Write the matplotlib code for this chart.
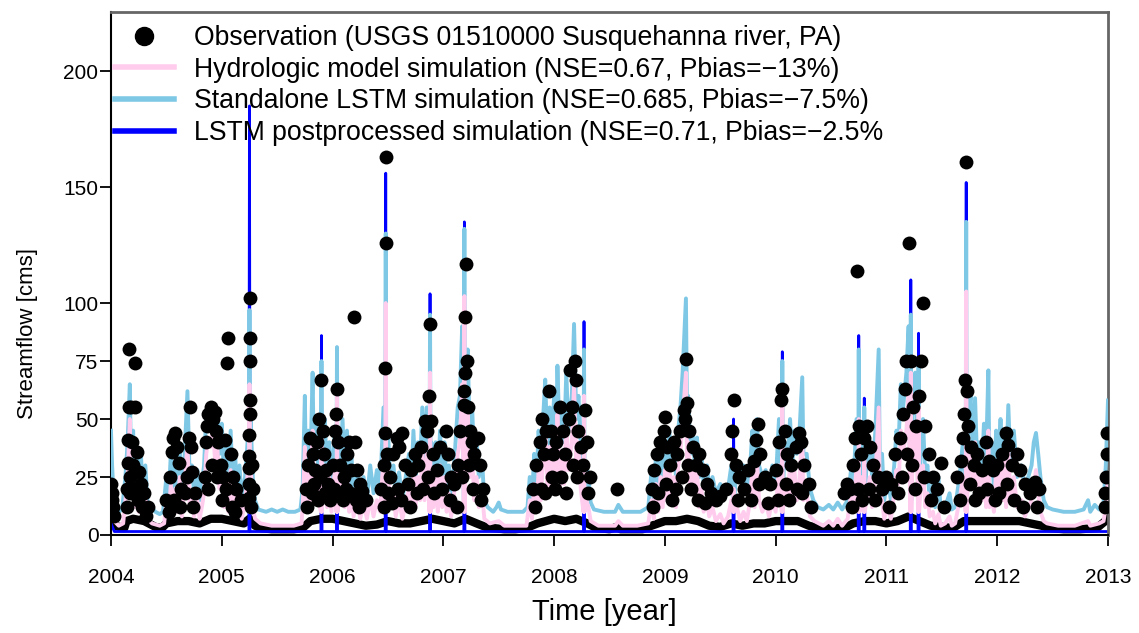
import matplotlib
matplotlib.use("Agg")
import matplotlib.pyplot as plt
from matplotlib.lines import Line2D

plt.rcParams['font.family'] = ['Liberation Sans', 'DejaVu Sans']

# ---- data (decimal year, streamflow in cms) ----
lstm_pts = [
    (2004.00, 45), (2004.01, 30), (2004.02, 20), (2004.04, 12), (2004.07, 10), (2004.10, 11), (2004.13, 25),
    (2004.15, 40), (2004.17, 65), (2004.18, 30), (2004.20, 45), (2004.21, 22), (2004.23, 38), (2004.25, 18),
    (2004.27, 35), (2004.29, 15), (2004.31, 30), (2004.33, 14), (2004.36, 12), (2004.40, 10), (2004.44, 9),
    (2004.47, 10), (2004.50, 25), (2004.52, 15), (2004.54, 35), (2004.56, 18), (2004.58, 32), (2004.60, 20),
    (2004.62, 38), (2004.64, 16), (2004.66, 30), (2004.69, 62), (2004.71, 25), (2004.73, 30), (2004.75, 18),
    (2004.78, 28), (2004.80, 15), (2004.82, 22), (2004.84, 30), (2004.86, 52), (2004.88, 54), (2004.90, 50),
    (2004.92, 54), (2004.94, 45), (2004.96, 52), (2004.98, 35), (2005.00, 48), (2005.02, 25), (2005.04, 40),
    (2005.06, 20), (2005.08, 45), (2005.10, 22), (2005.12, 35), (2005.14, 18), (2005.16, 30), (2005.18, 15),
    (2005.21, 25), (2005.24, 45), (2005.245, 15), (2005.25, 97), (2005.255, 15), (2005.26, 50), (2005.28, 25),
    (2005.30, 15), (2005.33, 11), (2005.40, 10), (2005.45, 11), (2005.50, 10), (2005.55, 11), (2005.60, 10),
    (2005.66, 10), (2005.71, 11), (2005.73, 20), (2005.75, 60), (2005.76, 25), (2005.78, 45), (2005.80, 30),
    (2005.82, 70), (2005.83, 35), (2005.85, 50), (2005.87, 30), (2005.895, 15), (2005.90, 75), (2005.905, 15),
    (2005.91, 40), (2005.93, 50), (2005.95, 25), (2005.97, 40), (2005.99, 20), (2006.02, 45), (2006.035, 15),
    (2006.04, 81), (2006.045, 15), (2006.05, 40), (2006.07, 30), (2006.09, 50), (2006.11, 25), (2006.13, 45),
    (2006.15, 20), (2006.17, 35), (2006.19, 18), (2006.22, 28), (2006.25, 15), (2006.28, 25), (2006.31, 15),
    (2006.34, 30), (2006.37, 18), (2006.40, 28), (2006.43, 20), (2006.46, 55), (2006.475, 15), (2006.48, 130),
    (2006.485, 15), (2006.50, 45), (2006.52, 25), (2006.55, 30), (2006.57, 18), (2006.60, 27), (2006.63, 15),
    (2006.66, 25), (2006.69, 35), (2006.71, 20), (2006.73, 45), (2006.75, 25), (2006.77, 40), (2006.79, 30),
    (2006.81, 55), (2006.83, 30), (2006.85, 55), (2006.875, 15), (2006.88, 95), (2006.885, 15), (2006.89, 40),
    (2006.91, 25), (2006.93, 40), (2006.95, 20), (2006.97, 45), (2006.99, 25), (2007.01, 40), (2007.03, 20),
    (2007.05, 30), (2007.07, 18), (2007.09, 25), (2007.11, 40), (2007.13, 55), (2007.15, 60), (2007.17, 90),
    (2007.185, 15), (2007.19, 132), (2007.195, 15), (2007.20, 60), (2007.22, 80), (2007.24, 40), (2007.26, 55),
    (2007.28, 30), (2007.30, 42), (2007.32, 25), (2007.35, 32), (2007.37, 15), (2007.40, 12), (2007.45, 10),
    (2007.48, 12), (2007.50, 14), (2007.52, 11), (2007.58, 10), (2007.65, 10), (2007.72, 10), (2007.76, 12),
    (2007.78, 25), (2007.80, 15), (2007.82, 35), (2007.84, 22), (2007.86, 45), (2007.88, 30), (2007.90, 50),
    (2007.92, 67), (2007.94, 35), (2007.96, 55), (2007.98, 40), (2008.00, 60), (2008.02, 45), (2008.03, 73),
    (2008.05, 40), (2008.07, 55), (2008.09, 40), (2008.11, 70), (2008.13, 45), (2008.16, 60), (2008.18, 91),
    (2008.20, 50), (2008.22, 60), (2008.24, 40), (2008.265, 15), (2008.27, 80), (2008.275, 15), (2008.29, 30),
    (2008.31, 25), (2008.33, 14), (2008.36, 11), (2008.45, 10), (2008.55, 10), (2008.58, 13), (2008.62, 10),
    (2008.70, 10), (2008.78, 10), (2008.85, 12), (2008.88, 28), (2008.90, 15), (2008.92, 35), (2008.94, 20),
    (2008.96, 38), (2008.98, 25), (2009.00, 40), (2009.02, 30), (2009.04, 45), (2009.06, 30), (2009.08, 40),
    (2009.10, 25), (2009.12, 45), (2009.14, 55), (2009.16, 70), (2009.19, 102), (2009.20, 50), (2009.21, 60),
    (2009.23, 35), (2009.25, 45), (2009.27, 30), (2009.29, 42), (2009.31, 25), (2009.33, 35), (2009.35, 22),
    (2009.38, 30), (2009.40, 20), (2009.43, 25), (2009.46, 18), (2009.50, 22), (2009.53, 17), (2009.57, 20),
    (2009.60, 30), (2009.615, 15), (2009.62, 28), (2009.625, 15), (2009.65, 30), (2009.68, 25), (2009.71, 30),
    (2009.74, 20), (2009.77, 30), (2009.79, 45), (2009.81, 25), (2009.83, 50), (2009.85, 30), (2009.88, 25),
    (2009.91, 28), (2009.94, 20), (2009.97, 30), (2010.00, 22), (2010.03, 50), (2010.04, 40), (2010.055, 15),
    (2010.06, 75), (2010.065, 15), (2010.08, 40), (2010.11, 35), (2010.13, 50), (2010.15, 30), (2010.17, 45),
    (2010.19, 35), (2010.21, 40), (2010.24, 68), (2010.25, 35), (2010.28, 35), (2010.31, 20), (2010.34, 15),
    (2010.38, 12), (2010.43, 11), (2010.48, 13), (2010.52, 11), (2010.56, 14), (2010.60, 11), (2010.65, 15),
    (2010.68, 28), (2010.70, 20), (2010.73, 50), (2010.745, 15), (2010.75, 80), (2010.755, 15), (2010.78, 45),
    (2010.795, 15), (2010.80, 55), (2010.805, 15), (2010.82, 30), (2010.85, 40), (2010.87, 25), (2010.90, 45),
    (2010.93, 80), (2010.94, 30), (2010.96, 35), (2010.98, 15), (2011.01, 25), (2011.04, 15), (2011.07, 30),
    (2011.09, 45), (2011.11, 40), (2011.13, 65), (2011.15, 55), (2011.18, 70), (2011.20, 90), (2011.215, 15),
    (2011.22, 95), (2011.225, 15), (2011.24, 60), (2011.26, 70), (2011.28, 45), (2011.285, 15), (2011.29, 75),
    (2011.295, 15), (2011.31, 40), (2011.33, 50), (2011.35, 25), (2011.37, 30), (2011.39, 15), (2011.42, 22),
    (2011.44, 12), (2011.47, 25), (2011.49, 11), (2011.53, 12), (2011.57, 18), (2011.59, 11), (2011.62, 12),
    (2011.66, 25), (2011.69, 40), (2011.715, 15), (2011.72, 135), (2011.725, 15), (2011.74, 50), (2011.76, 60),
    (2011.78, 35), (2011.80, 59), (2011.82, 30), (2011.84, 40), (2011.86, 25), (2011.88, 48), (2011.90, 35),
    (2011.92, 71), (2011.93, 25), (2011.95, 40), (2011.97, 20), (2011.99, 45), (2012.01, 35), (2012.03, 50),
    (2012.05, 30), (2012.07, 45), (2012.08, 25), (2012.10, 56), (2012.12, 30), (2012.15, 45), (2012.18, 25),
    (2012.22, 30), (2012.25, 20), (2012.28, 25), (2012.31, 30), (2012.33, 40), (2012.35, 44), (2012.37, 35),
    (2012.39, 25), (2012.42, 15), (2012.45, 12), (2012.50, 11), (2012.60, 10), (2012.70, 10), (2012.78, 11),
    (2012.82, 15), (2012.84, 10), (2012.88, 13), (2012.92, 11), (2012.96, 14), (2012.98, 30), (2013.00, 58),
]

hydro_pts = [
    (2004.00, 20), (2004.01, 12), (2004.03, 6), (2004.07, 4), (2004.11, 5), (2004.13, 15), (2004.15, 25),
    (2004.17, 50), (2004.18, 18), (2004.20, 30), (2004.21, 12), (2004.23, 25), (2004.25, 10), (2004.27, 22),
    (2004.29, 8), (2004.31, 18), (2004.33, 7), (2004.37, 5), (2004.44, 4), (2004.48, 5), (2004.50, 15),
    (2004.52, 8), (2004.54, 22), (2004.56, 9), (2004.58, 20), (2004.60, 10), (2004.62, 25), (2004.64, 8),
    (2004.66, 18), (2004.69, 40), (2004.71, 12), (2004.73, 18), (2004.75, 8), (2004.78, 15), (2004.80, 7),
    (2004.82, 12), (2004.84, 18), (2004.86, 35), (2004.88, 42), (2004.90, 38), (2004.92, 45), (2004.94, 32),
    (2004.96, 38), (2004.98, 20), (2005.00, 30), (2005.02, 12), (2005.04, 25), (2005.06, 10), (2005.08, 28),
    (2005.10, 10), (2005.12, 22), (2005.14, 8), (2005.16, 18), (2005.18, 7), (2005.21, 14), (2005.24, 30),
    (2005.245, 10), (2005.25, 65), (2005.255, 10), (2005.26, 30), (2005.28, 12), (2005.30, 7), (2005.35, 5),
    (2005.45, 4), (2005.55, 4), (2005.65, 4), (2005.72, 5), (2005.73, 12), (2005.75, 38), (2005.76, 12),
    (2005.78, 28), (2005.80, 15), (2005.82, 45), (2005.83, 18), (2005.85, 30), (2005.87, 15), (2005.895, 10),
    (2005.90, 50), (2005.905, 10), (2005.91, 25), (2005.93, 30), (2005.95, 12), (2005.97, 25), (2005.99, 10),
    (2006.02, 28), (2006.035, 10), (2006.04, 60), (2006.045, 10), (2006.05, 22), (2006.07, 15), (2006.09, 32),
    (2006.11, 12), (2006.13, 28), (2006.15, 10), (2006.17, 20), (2006.19, 8), (2006.22, 15), (2006.25, 7),
    (2006.28, 14), (2006.31, 7), (2006.34, 16), (2006.37, 8), (2006.40, 15), (2006.43, 10), (2006.46, 35),
    (2006.475, 10), (2006.48, 100), (2006.485, 10), (2006.50, 28), (2006.52, 12), (2006.55, 18), (2006.57, 8),
    (2006.60, 15), (2006.63, 7), (2006.66, 13), (2006.69, 20), (2006.71, 10), (2006.73, 28), (2006.75, 12),
    (2006.77, 25), (2006.79, 15), (2006.81, 35), (2006.83, 15), (2006.85, 35), (2006.875, 10), (2006.88, 70),
    (2006.885, 10), (2006.89, 22), (2006.91, 12), (2006.93, 25), (2006.95, 10), (2006.97, 30), (2006.99, 12),
    (2007.01, 25), (2007.03, 10), (2007.05, 18), (2007.07, 8), (2007.09, 14), (2007.11, 25), (2007.13, 35),
    (2007.15, 40), (2007.17, 65), (2007.185, 10), (2007.19, 103), (2007.195, 10), (2007.20, 40), (2007.22, 55),
    (2007.24, 25), (2007.26, 35), (2007.28, 15), (2007.30, 25), (2007.32, 12), (2007.35, 18), (2007.37, 7),
    (2007.42, 5), (2007.50, 6), (2007.55, 4), (2007.65, 4), (2007.75, 4), (2007.78, 15), (2007.80, 7),
    (2007.82, 22), (2007.84, 10), (2007.86, 28), (2007.88, 15), (2007.90, 32), (2007.92, 48), (2007.94, 20),
    (2007.96, 38), (2007.98, 22), (2008.00, 42), (2008.02, 28), (2008.03, 52), (2008.05, 20), (2008.07, 35),
    (2008.09, 22), (2008.11, 50), (2008.13, 28), (2008.16, 40), (2008.18, 65), (2008.20, 30), (2008.22, 40),
    (2008.24, 20), (2008.265, 10), (2008.27, 60), (2008.275, 10), (2008.29, 15), (2008.31, 12), (2008.33, 6),
    (2008.40, 4), (2008.55, 4), (2008.58, 6), (2008.62, 4), (2008.75, 4), (2008.85, 5), (2008.88, 15),
    (2008.90, 7), (2008.92, 22), (2008.94, 10), (2008.96, 25), (2008.98, 12), (2009.00, 28), (2009.02, 15),
    (2009.04, 30), (2009.06, 15), (2009.08, 25), (2009.10, 12), (2009.12, 30), (2009.14, 35), (2009.16, 50),
    (2009.19, 70), (2009.20, 30), (2009.21, 40), (2009.23, 20), (2009.25, 30), (2009.27, 15), (2009.29, 28),
    (2009.31, 12), (2009.33, 20), (2009.35, 10), (2009.38, 15), (2009.40, 8), (2009.43, 12), (2009.46, 6),
    (2009.50, 9), (2009.53, 5), (2009.57, 8), (2009.60, 15), (2009.615, 10), (2009.62, 20), (2009.625, 10),
    (2009.65, 12), (2009.68, 6), (2009.71, 10), (2009.74, 6), (2009.77, 15), (2009.79, 30), (2009.81, 12),
    (2009.83, 35), (2009.85, 15), (2009.88, 10), (2009.91, 14), (2009.94, 8), (2009.97, 15), (2010.00, 10),
    (2010.03, 30), (2010.04, 22), (2010.055, 10), (2010.06, 60), (2010.065, 10), (2010.08, 22), (2010.11, 18),
    (2010.13, 30), (2010.15, 15), (2010.17, 28), (2010.19, 15), (2010.21, 20), (2010.24, 45), (2010.25, 15),
    (2010.28, 18), (2010.31, 8), (2010.35, 6), (2010.43, 4), (2010.48, 6), (2010.52, 4), (2010.56, 7),
    (2010.60, 4), (2010.65, 7), (2010.68, 18), (2010.70, 10), (2010.73, 30), (2010.745, 10), (2010.75, 50),
    (2010.755, 10), (2010.78, 25), (2010.795, 10), (2010.80, 35), (2010.805, 10), (2010.82, 15), (2010.85, 25),
    (2010.87, 12), (2010.90, 25), (2010.93, 55), (2010.94, 18), (2010.96, 15), (2010.98, 7), (2011.01, 12),
    (2011.04, 7), (2011.07, 18), (2011.09, 28), (2011.11, 22), (2011.13, 45), (2011.15, 35), (2011.18, 45),
    (2011.20, 60), (2011.215, 10), (2011.22, 70), (2011.225, 10), (2011.24, 40), (2011.26, 45), (2011.28, 25),
    (2011.285, 10), (2011.29, 55), (2011.295, 10), (2011.31, 22), (2011.33, 30), (2011.35, 12), (2011.37, 18),
    (2011.39, 8), (2011.42, 10), (2011.44, 5), (2011.47, 9), (2011.49, 4), (2011.53, 5), (2011.57, 8),
    (2011.59, 4), (2011.62, 5), (2011.66, 15), (2011.69, 25), (2011.715, 10), (2011.72, 105), (2011.725, 10),
    (2011.74, 30), (2011.76, 38), (2011.78, 20), (2011.80, 40), (2011.82, 15), (2011.84, 30), (2011.86, 15),
    (2011.88, 28), (2011.90, 12), (2011.92, 45), (2011.93, 12), (2011.95, 18), (2011.97, 10), (2011.99, 28),
    (2012.01, 20), (2012.03, 30), (2012.05, 15), (2012.07, 35), (2012.08, 12), (2012.10, 38), (2012.12, 15),
    (2012.15, 25), (2012.18, 12), (2012.22, 15), (2012.25, 8), (2012.28, 12), (2012.31, 15), (2012.33, 22),
    (2012.35, 28), (2012.37, 18), (2012.39, 10), (2012.42, 6), (2012.45, 5), (2012.55, 4), (2012.70, 4),
    (2012.82, 6), (2012.84, 4), (2012.92, 5), (2012.96, 6), (2012.98, 12), (2013.00, 25),
]

post_pts = [
    (2004.00, 5), (2004.03, 1.5),
    (2005.2449, 1.5), (2005.245, 15), (2005.25, 185), (2005.255, 15), (2005.2551, 1.5),
    (2005.8949, 1.5), (2005.895, 15), (2005.90, 86), (2005.905, 15), (2005.9051, 1.5),
    (2006.0349, 1.5), (2006.035, 15), (2006.04, 81), (2006.045, 15), (2006.0451, 1.5),
    (2006.4749, 1.5), (2006.475, 15), (2006.48, 156), (2006.485, 15), (2006.4851, 1.5),
    (2006.8749, 1.5), (2006.875, 15), (2006.88, 104), (2006.885, 15), (2006.8851, 1.5),
    (2007.1849, 1.5), (2007.185, 15), (2007.19, 135), (2007.195, 15), (2007.1951, 1.5),
    (2008.2649, 1.5), (2008.265, 15), (2008.27, 92), (2008.275, 15), (2008.2751, 1.5),
    (2009.6149, 1.5), (2009.615, 15), (2009.62, 50), (2009.625, 15), (2009.6251, 1.5),
    (2010.0549, 1.5), (2010.055, 15), (2010.06, 79), (2010.065, 15), (2010.0651, 1.5),
    (2010.7449, 1.5), (2010.745, 15), (2010.75, 86), (2010.755, 15), (2010.7551, 1.5),
    (2010.7949, 1.5), (2010.795, 15), (2010.80, 59), (2010.805, 15), (2010.8051, 1.5),
    (2011.2149, 1.5), (2011.215, 15), (2011.22, 110), (2011.225, 15), (2011.2251, 1.5),
    (2011.2849, 1.5), (2011.285, 15), (2011.29, 87), (2011.295, 15), (2011.2951, 1.5),
    (2011.7149, 1.5), (2011.715, 15), (2011.72, 152), (2011.725, 15), (2011.7251, 1.5),
    (2013.00, 1.5),
]

obs_base_pts = [
    (2004.00, 7), (2004.03, 4), (2004.12, 3), (2004.14, 6), (2004.20, 7), (2004.30, 6), (2004.40, 3.5),
    (2004.46, 3), (2004.50, 5), (2004.60, 6), (2004.70, 6), (2004.80, 5), (2004.90, 7), (2005.00, 7),
    (2005.10, 6), (2005.20, 5), (2005.25, 7), (2005.30, 4), (2005.35, 3), (2005.45, 2.5), (2005.55, 2.5),
    (2005.65, 2.5), (2005.73, 3), (2005.80, 6), (2005.90, 7), (2006.00, 7), (2006.10, 6), (2006.20, 5),
    (2006.30, 4), (2006.40, 4.5), (2006.50, 6), (2006.60, 5), (2006.70, 5), (2006.80, 6), (2006.90, 7),
    (2007.00, 6), (2007.10, 5), (2007.20, 7), (2007.30, 5), (2007.38, 3.5), (2007.45, 3), (2007.55, 2.5),
    (2007.65, 2.5), (2007.75, 3), (2007.85, 5), (2008.00, 7), (2008.10, 6), (2008.20, 7), (2008.30, 5),
    (2008.38, 3), (2008.50, 2.5), (2008.57, 3.5), (2008.60, 2.5), (2008.80, 2.5), (2008.88, 4), (2009.00, 6),
    (2009.10, 6), (2009.20, 7), (2009.30, 6), (2009.40, 4), (2009.50, 3.5), (2009.60, 5), (2009.70, 4),
    (2009.80, 5), (2009.90, 5), (2010.00, 6), (2010.10, 6), (2010.20, 6), (2010.30, 4), (2010.38, 3),
    (2010.50, 3), (2010.62, 3), (2010.70, 5), (2010.80, 6), (2010.90, 6), (2011.00, 5), (2011.10, 6),
    (2011.20, 8), (2011.30, 6), (2011.40, 4), (2011.50, 3.5), (2011.60, 3), (2011.70, 6), (2011.80, 6),
    (2011.90, 6), (2012.00, 6), (2012.10, 6), (2012.20, 6), (2012.30, 5), (2012.40, 4), (2012.47, 3),
    (2012.60, 2.5), (2012.75, 2.5), (2012.90, 3), (2013.00, 7),
]

obs_pts = [
    # 2004
    (2004.00, 22), (2004.005, 15), (2004.01, 18), (2004.02, 12), (2004.03, 8), (2004.14, 20), (2004.145, 12),
    (2004.15, 31), (2004.155, 41), (2004.16, 55), (2004.165, 80), (2004.17, 25), (2004.175, 18), (2004.18, 55),
    (2004.19, 40), (2004.20, 30), (2004.21, 20), (2004.215, 74), (2004.22, 55), (2004.235, 36), (2004.24, 15),
    (2004.25, 27), (2004.27, 22), (2004.28, 12), (2004.30, 18), (2004.32, 8), (2004.33, 12), (2004.50, 15),
    (2004.52, 10), (2004.53, 25), (2004.55, 36), (2004.56, 42), (2004.57, 15), (2004.58, 44), (2004.595, 38),
    (2004.61, 31), (2004.62, 12), (2004.63, 20), (2004.67, 18), (2004.69, 25), (2004.70, 42), (2004.71, 55),
    (2004.72, 38), (2004.73, 27), (2004.74, 12), (2004.76, 18), (2004.85, 25), (2004.86, 40), (2004.87, 47),
    (2004.875, 20), (2004.88, 52), (2004.90, 55), (2004.91, 30), (2004.92, 50), (2004.94, 53), (2004.95, 45),
    (2004.96, 25), (2004.97, 40), (2004.99, 30), (2005.00, 15), (2005.01, 25), (2005.03, 41), (2005.04, 20),
    (2005.05, 74), (2005.06, 85), (2005.08, 35), (2005.09, 12), (2005.10, 25), (2005.12, 10), (2005.13, 20),
    (2005.17, 15),
    # 2005 spring flood
    (2005.245, 16), (2005.247, 22), (2005.248, 29), (2005.249, 34), (2005.25, 43), (2005.251, 52),
    (2005.252, 58), (2005.253, 75), (2005.254, 85), (2005.255, 102), (2005.265, 12), (2005.27, 30),
    (2005.28, 20),
    # winter 2005/06
    (2005.76, 20), (2005.77, 12), (2005.78, 30), (2005.80, 42), (2005.81, 18), (2005.82, 35), (2005.83, 22),
    (2005.84, 28), (2005.86, 40), (2005.87, 15), (2005.88, 50), (2005.89, 25), (2005.90, 67), (2005.91, 45),
    (2005.92, 35), (2005.93, 18), (2005.94, 28), (2005.96, 22), (2005.98, 15), (2006.00, 30), (2006.01, 20),
    (2006.02, 45), (2006.03, 52), (2006.04, 63), (2006.05, 40), (2006.06, 18), (2006.07, 30), (2006.09, 15),
    (2006.10, 25), (2006.12, 20), (2006.13, 35), (2006.15, 40), (2006.16, 18), (2006.17, 28), (2006.19, 94),
    (2006.20, 40), (2006.21, 15), (2006.22, 28), (2006.24, 12), (2006.25, 22), (2006.27, 19), (2006.30, 15),
    (2006.44, 20), (2006.46, 12),
    # 2006 summer flood
    (2006.465, 30), (2006.47, 44), (2006.475, 72), (2006.48, 126), (2006.482, 163), (2006.49, 35),
    (2006.50, 18), (2006.52, 25), (2006.54, 14), (2006.55, 35), (2006.58, 42), (2006.59, 20), (2006.60, 38),
    (2006.62, 15), (2006.63, 44), (2006.65, 30), (2006.68, 22), (2006.70, 12), (2006.71, 28), (2006.74, 35),
    (2006.76, 18), (2006.77, 30), (2006.80, 38), (2006.82, 20), (2006.83, 49), (2006.85, 45), (2006.86, 25),
    (2006.87, 60), (2006.88, 91), (2006.89, 49), (2006.91, 35), (2006.92, 18), (2006.94, 28), (2006.97, 38),
    (2006.99, 20), (2007.02, 45), (2007.04, 35), (2007.06, 15), (2007.07, 25), (2007.10, 22), (2007.12, 12),
    (2007.13, 30), (2007.15, 45), (2007.17, 25),
    # 2007 spring flood
    (2007.185, 56), (2007.19, 62), (2007.195, 70), (2007.20, 94), (2007.205, 117), (2007.21, 75),
    (2007.22, 55), (2007.23, 30), (2007.24, 45), (2007.26, 40), (2007.27, 20), (2007.28, 35), (2007.31, 42),
    (2007.33, 30), (2007.34, 15), (2007.36, 20),
    # winter 2007/08
    (2007.81, 20), (2007.83, 12), (2007.84, 30), (2007.87, 40), (2007.88, 20), (2007.89, 50), (2007.91, 35),
    (2007.92, 18), (2007.93, 45), (2007.95, 62), (2007.97, 45), (2007.98, 25), (2007.99, 35), (2008.01, 20),
    (2008.02, 40), (2008.05, 55), (2008.06, 25), (2008.08, 45), (2008.10, 35), (2008.11, 18), (2008.13, 50),
    (2008.14, 71), (2008.16, 55), (2008.17, 30), (2008.19, 75), (2008.20, 67), (2008.21, 25), (2008.22, 45),
    (2008.24, 38), (2008.26, 30), (2008.28, 54), (2008.30, 40), (2008.31, 18), (2008.32, 25), (2008.57, 20),
    # 2008/09
    (2008.88, 20), (2008.89, 12), (2008.90, 28), (2008.93, 35), (2008.94, 18), (2008.96, 40), (2008.99, 45),
    (2009.00, 51), (2009.01, 22), (2009.02, 38), (2009.05, 30), (2009.06, 15), (2009.08, 40), (2009.10, 20),
    (2009.11, 35), (2009.14, 45), (2009.15, 25), (2009.17, 54), (2009.18, 50), (2009.19, 76), (2009.20, 57),
    (2009.21, 30), (2009.22, 45), (2009.24, 20), (2009.25, 38), (2009.28, 30), (2009.30, 15), (2009.31, 35),
    (2009.34, 28), (2009.36, 14), (2009.38, 22), (2009.42, 18), (2009.46, 15), (2009.50, 17), (2009.55, 20),
    (2009.60, 35), (2009.61, 45), (2009.62, 58), (2009.64, 30), (2009.66, 15), (2009.67, 25), (2009.71, 20),
    (2009.75, 28), (2009.78, 15), (2009.80, 32), (2009.82, 41), (2009.84, 48), (2009.85, 22), (2009.86, 35),
    (2009.90, 25), (2009.93, 14), (2009.95, 22), (2010.00, 28), (2010.02, 15), (2010.03, 40), (2010.05, 58),
    (2010.06, 63), (2010.08, 45), (2010.09, 22), (2010.10, 35), (2010.12, 15), (2010.14, 30), (2010.18, 38),
    (2010.19, 20), (2010.21, 44), (2010.23, 40), (2010.24, 18), (2010.26, 30), (2010.30, 22), (2010.32, 12),
    # 2010/11
    (2010.62, 18), (2010.64, 22), (2010.67, 20), (2010.69, 12), (2010.70, 30), (2010.72, 42), (2010.73, 114),
    (2010.74, 20), (2010.75, 47), (2010.77, 35), (2010.78, 15), (2010.80, 42), (2010.82, 47), (2010.84, 20),
    (2010.85, 38), (2010.88, 30), (2010.90, 15), (2010.92, 25), (2010.96, 20), (2011.00, 25), (2011.02, 12),
    (2011.04, 22), (2011.08, 35), (2011.10, 18), (2011.12, 42), (2011.14, 25), (2011.15, 52), (2011.17, 63),
    (2011.18, 75), (2011.19, 35), (2011.20, 126), (2011.22, 75), (2011.23, 30), (2011.24, 55), (2011.26, 20),
    (2011.27, 47), (2011.29, 60), (2011.31, 75), (2011.33, 100), (2011.34, 25), (2011.35, 47), (2011.38, 35),
    (2011.40, 15), (2011.42, 25), (2011.46, 20), (2011.49, 31), (2011.52, 12),
    # 2011 autumn flood and winter 2011/12
    (2011.64, 25), (2011.66, 15), (2011.67, 32), (2011.69, 42), (2011.70, 52), (2011.71, 67), (2011.72, 161),
    (2011.73, 62), (2011.74, 47), (2011.75, 22), (2011.76, 38), (2011.79, 30), (2011.80, 15), (2011.82, 35),
    (2011.84, 18), (2011.86, 28), (2011.90, 40), (2011.91, 20), (2011.93, 32), (2011.96, 28), (2011.98, 15),
    (2012.00, 30), (2012.02, 18), (2012.04, 35), (2012.08, 44), (2012.09, 22), (2012.10, 39), (2012.13, 30),
    (2012.15, 15), (2012.18, 35), (2012.21, 28), (2012.23, 12), (2012.25, 22), (2012.30, 18), (2012.34, 23),
    (2012.36, 12), (2012.38, 20),
    # rise at the end of 2012
    (2012.97, 12), (2012.975, 18), (2012.985, 25), (2012.99, 35), (2012.995, 44),
]

labels = [
    "Observation (USGS 01510000 Susquehanna river, PA)",
    "Hydrologic model simulation (NSE=0.67, Pbias=\u221213%)",
    "Standalone LSTM simulation (NSE=0.685, Pbias=\u22127.5%)",
    "LSTM postprocessed simulation (NSE=0.71, Pbias=\u22122.5%",
]
year_ticks = list(range(2004, 2014))
flow_ticks = [0, 25, 50, 75, 100, 150, 200]

pink = "#FFCCEE"
sky = "#7EC8E6"
blue = "#0000FF"

fig = plt.figure(figsize=(11.39, 6.33), dpi=100)
ax = fig.add_axes([111 / 1139, 1 - 535 / 633, 997 / 1139, 523 / 633])


def xy(pts):
    return [p[0] for p in pts], [p[1] for p in pts]


ax.plot(*xy(obs_base_pts), color="black", lw=6, solid_joinstyle="round", zorder=1)
ax.plot(*xy(post_pts), color=blue, lw=2.0, zorder=2)
ax.plot(*xy(lstm_pts), color=sky, lw=2.8, zorder=3)
ax.plot(*xy(hydro_pts), color=pink, lw=2.8, zorder=4)
ax.plot(*xy(obs_pts), "o", color="black", ms=10, mew=0, zorder=5)

ax.set_xlim(2004, 2013)
ax.set_ylim(0, 225.5)
ax.set_xticks(year_ticks)
ax.set_yticks(flow_ticks)
ax.tick_params(direction="out", length=8, width=1.3, labelsize=15)
ax.tick_params(axis="x", pad=16)
ax.tick_params(axis="y", pad=1)
for name in ["left", "bottom"]:
    ax.spines[name].set_linewidth(1.5)
for name in ["top", "right"]:
    ax.spines[name].set_linewidth(2)
    ax.spines[name].set_color("#666666")

ax.set_xlabel("Time [year]", fontsize=21)
ax.xaxis.set_label_coords(0.495, -0.121)
ax.set_ylabel("Streamflow [cms]", fontsize=16)
ax.yaxis.set_label_coords(-0.073, 0.386)

handles = [
    Line2D([], [], ls="none", marker="o", color="black", ms=13),
    Line2D([], [], color=pink, lw=4),
    Line2D([], [], color=sky, lw=4),
    Line2D([], [], color=blue, lw=4),
]
ax.legend(handles, labels, loc="upper left", bbox_to_anchor=(0.004, 0.975), frameon=False,
          fontsize=19.2, handlelength=2.2, handletextpad=0.75, labelspacing=0.21,
          borderaxespad=0, borderpad=0)

fig.savefig("out.png", dpi=100)
